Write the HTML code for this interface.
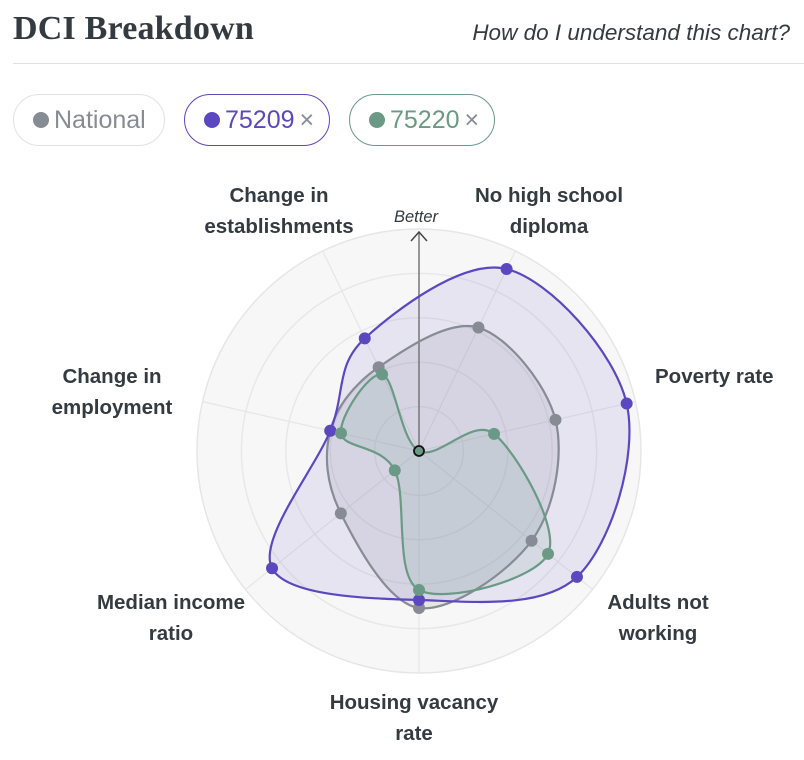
<!DOCTYPE html>
<html><head><meta charset="utf-8">
<style>
html,body{margin:0;padding:0;background:#fff;width:804px;height:760px;overflow:hidden}
body{position:relative;font-family:"Liberation Sans",sans-serif;color:#333b40}
.title{position:absolute;left:13px;top:10px;font-family:"Liberation Serif",serif;font-weight:bold;font-size:34px;color:#333b40;letter-spacing:0.2px}
.help{position:absolute;right:14px;top:20px;font-style:italic;font-size:22.5px;color:#333b40}
.rule{position:absolute;left:13px;right:0;top:63px;height:1px;background:#e0e0e0}
.pill{position:absolute;top:94px;height:52px;border-radius:26px;box-sizing:border-box;font-size:25px;line-height:50px;padding-left:19px}
.pill .dot{display:inline-block;width:16px;height:16px;border-radius:50%;margin-right:5px;vertical-align:0px}
.pill .x{color:#868b94;margin-left:5px}
.lbl{position:absolute;font-weight:bold;font-size:20.5px;line-height:31px;text-align:center;color:#333b40;white-space:nowrap}
</style></head><body>
<div class="title">DCI Breakdown</div>
<div class="help">How do I understand this chart?</div>
<div class="rule"></div>
<div class="pill" style="left:13px;width:152px;border:1.5px solid #e2e2e2;color:#868b94"><span class="dot" style="background:#868b94"></span>National</div>
<div class="pill" style="left:184px;width:146px;border:1.5px solid #5b47c0;color:#5b47c0"><span class="dot" style="background:#5b47c0"></span>75209<span class="x">×</span></div>
<div class="pill" style="left:349px;width:146px;border:1.5px solid #6a9a85;color:#6a9a85"><span class="dot" style="background:#6a9a85"></span>75220<span class="x">×</span></div>

<svg id="chart" width="804" height="760" style="position:absolute;left:0;top:0" xmlns="http://www.w3.org/2000/svg"></svg>

<div class="lbl" style="left:179px;top:180px;width:200px">Change in<br>establishments</div>
<div class="lbl" style="left:449px;top:180px;width:200px">No high school<br>diploma</div>
<div class="lbl" style="left:655px;top:361px;width:140px;text-align:left">Poverty rate</div>
<div class="lbl" style="left:12px;top:361px;width:200px">Change in<br>employment</div>
<div class="lbl" style="left:71px;top:587px;width:200px">Median income<br>ratio</div>
<div class="lbl" style="left:558px;top:587px;width:200px">Adults not<br>working</div>
<div class="lbl" style="left:314px;top:687px;width:200px">Housing vacancy<br>rate</div>

<script>
var cx=419,cy=451,R=222,NS="http://www.w3.org/2000/svg",svg=document.getElementById('chart');
function el(t,a){var e=document.createElementNS(NS,t);for(var k in a)e.setAttribute(k,a[k]);svg.appendChild(e);return e;}
el('circle',{cx:cx,cy:cy,r:R,fill:'#f7f7f7',stroke:'#e6e6e6','stroke-width':1.5});
[177.6,133.2,88.8,44.4].forEach(function(r){el('circle',{cx:cx,cy:cy,r:r,fill:'none',stroke:'#e8e8e8','stroke-width':1.5});});
var angs=[];for(var i=0;i<7;i++)angs.push((25.7+51.43*i)*Math.PI/180);
angs.forEach(function(a){el('line',{x1:cx,y1:cy,x2:cx+R*Math.sin(a),y2:cy-R*Math.cos(a),stroke:'#e6e6e6','stroke-width':1.2});});
var series=[
 {c:'#868b94',f:'rgba(134,139,148,0.16)',v:[137,140,144,157,100,91,93]},
 {c:'#5b47c0',f:'rgba(91,71,192,0.10)',v:[202,213,202,149,188,91,125]},
 {c:'#6a9a85',f:'rgba(106,154,133,0.14)',v:[0,77,165,139,31,80,85]}
];
function pts(v){return v.map(function(r,i){return [cx+r*Math.sin(angs[i]),cy-r*Math.cos(angs[i])];});}
function path(p){var n=p.length,d='M'+p[0][0]+','+p[0][1];
 for(var i=0;i<n;i++){var p0=p[(i-1+n)%n],p1=p[i],p2=p[(i+1)%n],p3=p[(i+2)%n];
  d+=' C'+(p1[0]+(p2[0]-p0[0])/6)+','+(p1[1]+(p2[1]-p0[1])/6)+' '+(p2[0]-(p3[0]-p1[0])/6)+','+(p2[1]-(p3[1]-p1[1])/6)+' '+p2[0]+','+p2[1];}
 return d+'Z';}
series.forEach(function(s){el('path',{d:path(pts(s.v)),fill:s.f,stroke:'none'});});
el('line',{x1:cx,y1:cy,x2:cx,y2:232,stroke:'#777','stroke-width':1.5});
el('polyline',{points:(cx-8)+',241 '+cx+',232 '+(cx+8)+',241',fill:'none',stroke:'#444','stroke-width':1.5});
var t=el('text',{x:cx-3,y:222,'text-anchor':'middle','font-family':'Liberation Sans, sans-serif','font-size':16.5,'font-style':'italic',fill:'#333b40'});t.textContent='Better';
series.forEach(function(s){el('path',{d:path(pts(s.v)),fill:'none',stroke:s.c,'stroke-width':2.2});});
series.forEach(function(s){pts(s.v).forEach(function(p,i){
 if(s.v[i]===0)el('circle',{cx:p[0],cy:p[1],r:5,fill:s.c,stroke:'#111','stroke-width':1.8});
 else el('circle',{cx:p[0],cy:p[1],r:6,fill:s.c});});});
</script>
</body></html>
